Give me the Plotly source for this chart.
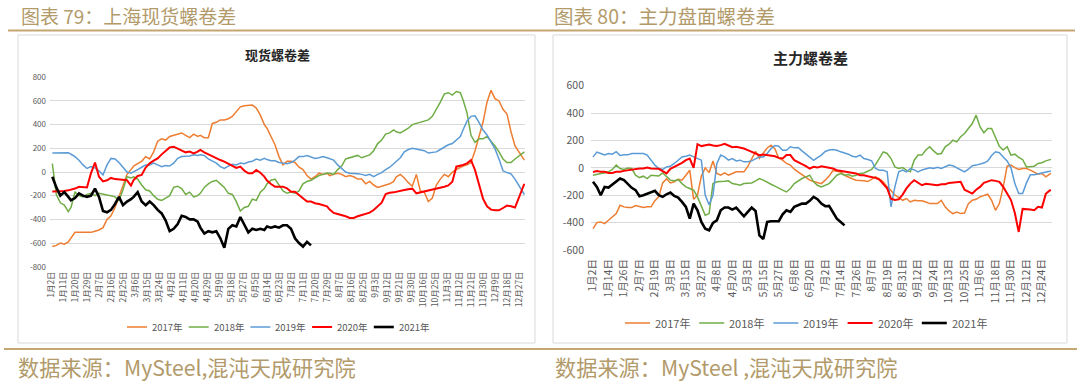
import plotly.graph_objects as go
import pandas as pd

# ---------------- categories (trading-calendar days used on both x axes) ----------------
_days = [d for d in pd.date_range("2021-01-02", "2021-12-31", freq="D")
         if not (d.month == 5 and d.day == 1) and not (d.month == 10 and d.day <= 7)]
CATS = [f"{d.month}月{d.day}日" for d in _days]

LEFT_TICKS = ["1月2日", "1月11日", "1月20日", "1月29日", "2月7日", "2月16日", "2月25日", "3月6日",
              "3月15日", "3月24日", "4月2日", "4月11日", "4月20日", "4月29日", "5月9日", "5月18日",
              "5月27日", "6月5日", "6月14日", "6月23日", "7月2日", "7月11日", "7月20日", "7月29日",
              "8月7日", "8月16日", "8月25日", "9月3日", "9月12日", "9月21日", "9月30日", "10月16日",
              "10月25日", "11月3日", "11月12日", "11月21日", "11月30日", "12月9日", "12月18日", "12月27日"]
RIGHT_TICKS = ["1月2日", "1月14日", "1月26日", "2月7日", "2月19日", "3月3日", "3月15日", "3月27日",
               "4月8日", "4月20日", "5月3日", "5月15日", "5月27日", "6月8日", "6月20日", "7月2日",
               "7月14日", "7月26日", "8月7日", "8月19日", "8月31日", "9月12日", "9月24日", "10月13日",
               "10月25日", "11月6日", "11月18日", "11月30日", "12月12日", "12月24日"]
LEFT_Y_TICKS = [-800, -600, -400, -200, 0, 200, 400, 600, 800]
RIGHT_Y_TICKS = [-600, -400, -200, 0, 200, 400, 600]

SERIES_NAMES = ["2017年", "2018年", "2019年", "2020年", "2021年"]

# sample positions (category index) of the values
L_POS = [round(0.98 * c + 0.75) for c in range(0, 355, 3)] + [355]
R_POS = list(range(0, 355, 3)) + [355]

# ---------------- left chart: 现货螺卷差 ----------------
L2017 = [-630, -620, -600, -610, -590, -560, -510, -510, -510, -510,
         -510, -500, -490, -470, -400, -370, -300, -210, -120, -20,
         20, 50, 70, 90, 130, 110, 170, 260, 280, 270,
         300, 310, 320, 330, 310, 290, 320, 300, 310, 290,
         290, 410, 420, 440, 440, 450, 470, 510, 550, 560,
         560, 565, 540, 480, 400, 370, 300, 230, 130, 60,
         90, 90, 80, 40, 20, -30, -60, -40, -10, -20,
         -10, -30, -20, -10, -20, -40, -30, -40, -60, -60,
         -100, -80, -110, -130, -120, -110, -100, -80, -40, -20,
         -50, -90, -120, -20, -160, -170, -250, -220, -110, -60,
         -20, -40, 0, 20, 40, 50, 60, 80, 180, 290,
         420, 590, 690, 620, 600, 530, 490, 340, 220,
         100]
L2018 = [70, -190, -260, -280, -335, -300, -170, -200, -210, -190,
         -180, -200, -180, -190, -195, -200, -210, -240, -150, -40,
         -50, -40, -60, -110, -150, -160, -200, -230, -240, -220,
         -200, -130, -120, -140, -190, -170, -210, -200, -180, -130,
         -100, -80, -70, -100, -130, -180, -190, -250, -330, -300,
         -290, -230, -240, -170, -140, -100, -70, -60, -110, -160,
         -180, -170, -180, -160, -100, -80, -70, -50, -30, -20,
         -10, -10, -20, 20, 50, 110, 120, 130, 140, 120,
         130, 145, 180, 240, 270, 320, 330, 355, 340, 330,
         350, 370, 400, 410, 420, 430, 440, 470, 525, 590,
         660, 670, 650, 680, 670, 610, 500, 310, 250, 280,
         280, 300, 260, 220, 170, 110, 80, 80, 110,
         170]
L2019 = [160, 160, 165, 160, 163, 150, 130, 100, 60, 30,
         45, 35, 10, -25, 60, 115, 110, 80, 40, 0,
         -10, 0, 20, 40, 60, 60, 75, 60, 45, 55,
         50, 75, 115, 130, 130, 135, 145, 140, 145, 140,
         110, 90, 75, 45, 30, 50, 65, 60, 75, 70,
         85, 90, 110, 100, 115, 105, 95, 95, 80, 75,
         70, 80, 100, 130, 130, 140, 130, 115, 120, 130,
         120, 110, 100, 60, 30, 0, -10, -10, -15, -20,
         -30, -20, -40, -20, -5, 20, 40, 70, 90, 120,
         170, 190, 200, 195, 185, 180, 160, 165, 170, 190,
         210, 230, 240, 270, 300, 355, 430, 470, 475, 420,
         355, 313, 255, 195, 110, 10, -5, -15, -60,
         -190]
L2020 = [-165, -165, -160, -160, -155, -150, -140, -125, -125, -130,
         -10, 80, -40, -80, -70, -50, -60, -65, -70, -70,
         -115, -67, -34, -25, 37, 73, 96, 115, 149, 177,
         208, 214, 200, 186, 166, 172, 158, 172, 186, 166,
         149, 130, 115, 101, 87, 68, 51, 34, 45, 11,
         -11, -11, 17, -6, -39, -73, -101, -124, -124, -124,
         -138, -166, -166, -194, -222, -250, -250, -264, -270, -279,
         -290, -318, -346, -355, -363, -374, -388, -388, -374, -363,
         -352, -343, -321, -293, -259, -186, -175, -172, -166, -158,
         -152, -146, -141, -180, -172, -166, -158, -152, -138, -130,
         -124, -113, -82, 45, 51, 59, 73, 101, 17, -110,
         -225, -290, -318, -324, -324, -304, -284, -290, -300,
         -100]
L2021 = [-40, -130, -200, -170, -210, -240, -220, -180, -200, -210,
         -200, -140, -210, -330, -340, -320, -270, -210, -280, -250,
         -230, -210, -170, -250, -280, -250, -280, -320, -350, -410,
         -500, -480, -440, -370, -380, -400, -400, -420, -470, -520,
         -500, -510, -500, -560, -640, -480, -450, -460, -380, -450,
         -510, -480, -490, -480, -490, -460, -470, -460, -470, -450,
         -450, -480, -560, -600, -630, -590, -620]

# ---------------- right chart: 主力螺卷差 ----------------
R2017 = [-444, -400, -395, -407, -383, -358, -334, -273, -285, -290,
         -290, -275, -280, -290, -285, -285, -240, -210, -110, -80,
         -110, -102, -83, -90, -54, -17, -230, -200, -60, 0,
         -35, 50, -41, -54, -37, -54, -41, -29, -29, -29,
         10, 60, 120, 70, 105, 145, 165, 140, 70, 56,
         32, 20, -10, -30, -45, -66, -90, -100, -110, -115,
         -90, -60, -20, -25, -30, -54, -70, -80, -90, -90,
         -95, -100, -85, -66, -80, -102, -139, -165, -200, -215,
         -237, -224, -249, -237, -241, -240, -249, -261, -261, -261,
         -237, -285, -315, -334, -322, -334, -330, -261, -237, -230,
         -212, -200, -193, -237, -310, -261, -139, 12, 20, 2,
         -12, -5, -5, -17, -29, -46, -41, -66, -46,
         -41]
R2018 = [-54, -46, -41, -37, -29, -12, 20, -5, -12, -2,
         -5, -54, -71, -61, -78, -54, -59, -59, -37, -66,
         -90, -95, -85, -115, -139, -151, -163, -212, -273, -346,
         -334, -115, -102, -102, -98, -95, -115, -120, -127, -115,
         -110, -110, -95, -78, -90, -102, -120, -134, -151, -163,
         -176, -151, -115, -95, -78, -66, -54, -102, -127, -139,
         -127, -115, -85, -54, -41, -54, -49, -61, -54, -41,
         -37, -27, -12, 24, 68, 117, 105, 68, 7, -5,
         2, -17, -29, 56, 93, 93, 130, 154, 124, 100,
         105, 154, 173, 202, 190, 227, 251, 288, 324, 385,
         300, 256, 288, 288, 227, 158, 130, 154, 93, 100,
         76, 61, 7, 12, 12, 32, 37, 51, 61,
         62]
R2019 = [80, 115, 105, 95, 105, 100, 118, 90, 95, 95,
         105, 105, 110, 105, 93, 56, 20, -5, -12, 7,
         12, 32, 56, 80, 85, 93, 80, 68, 56, -200,
         -270, -200, 30, 93, 80, 56, 68, 51, 56, 44,
         44, 51, 63, 80, 80, 105, 141, 163, 158, 129,
         129, 154, 146, 149, 124, 100, 75, 55, 75, 93,
         120, 130, 134, 129, 117, 110, 100, 85, 80, 93,
         68, 61, 51, -5, -17, -17, -29, -285, -139, -29,
         -17, -30, -5, -15, -30, -15, -5, 0, -5, 5,
         -5, 10, 20, 15, 0, -20, -30, -10, 15, 20,
         28, 35, 50, 90, 117, 110, 80, 50, 0, -115,
         -188, -188, -110, -50, -50, -45, -40, -30, -25,
         -22]
R2020 = [-30, -24, -29, -29, -37, -37, -29, -29, -22, -17,
         -17, -12, -5, -5, 2, -5, -5, -7, -24, -41,
         -7, 7, 20, 37, 56, 68, 0, 173, 159, 166,
         171, 163, 159, 166, 176, 163, 151, 154, 149, 141,
         129, 117, 100, 93, 98, 93, 93, 85, 73, 68,
         93, 93, 56, 39, 27, 12, -5, 7, 2, 12,
         7, 2, -5, -17, -22, -29, -29, -37, -41, -54,
         -54, -61, -66, -73, -85, -115, -150, -225, -235, -230,
         -195, -150, -115, -90, -110, -127, -117, -120, -120, -127,
         -120, -120, -110, -108, -104, -102, -160, -175, -188, -160,
         -139, -110, -102, -90, -95, -102, -139, -190, -235, -330,
         -468, -300, -300, -305, -310, -285, -290, -190, -165,
         -163]
R2021 = [-102, -139, -200, -139, -144, -120, -95, -78, -90, -120,
         -146, -163, -207, -200, -188, -180, -168, -200, -212, -193,
         -180, -205, -217, -249, -285, -371, -261, -310, -395, -444,
         -456, -402, -383, -310, -290, -290, -305, -290, -322, -354,
         -322, -290, -315, -493, -520, -395, -390, -388, -390, -339,
         -310, -322, -285, -273, -261, -261, -241, -212, -229, -261,
         -280, -278, -330, -371, -395, -420]

COLORS = ["#ED7D31", "#70AD47", "#5B9BD5", "#FF0000", "#000000"]
WIDTHS = [1.5, 1.5, 1.5, 2.0, 2.6]

LEFT_DATA = [L2017, L2018, L2019, L2020, L2021]
RIGHT_DATA = [R2017, R2018, R2019, R2020, R2021]

FONT = "Noto Sans CJK SC, Noto Sans, sans-serif"
GOLD_TXT = "#B29A6A"
GOLD_LINE = "#C4A672"
GRID = "#D9D9D9"
TICK = "#595959"

W, H = 1080, 383


def px(x):
    return x / W


def py(y):
    return 1 - y / H


fig = go.Figure()
for name, ys, col, wd in zip(SERIES_NAMES, LEFT_DATA, COLORS, WIDTHS):
    fig.add_trace(go.Scatter(x=[CATS[i] for i in L_POS[:len(ys)]], y=ys, name=name,
                             mode="lines", line=dict(color=col, width=wd),
                             xaxis="x", yaxis="y", showlegend=False))
for name, ys, col, wd in zip(SERIES_NAMES, RIGHT_DATA, COLORS, WIDTHS):
    fig.add_trace(go.Scatter(x=[CATS[i] for i in R_POS[:len(ys)]], y=ys, name=name,
                             mode="lines", line=dict(color=col, width=wd),
                             xaxis="x2", yaxis="y2", showlegend=False))

xcommon = dict(type="category", categoryorder="array", categoryarray=CATS, tickmode="array",
               tickangle=-90, showgrid=False, zeroline=False, showline=False, ticks="",
               fixedrange=True, automargin=False)
ycommon = dict(showgrid=True, gridcolor=GRID, gridwidth=1, zeroline=False, showline=False,
               ticks="", tickmode="array", fixedrange=True, automargin=False)

fig.update_layout(
    width=W, height=H, margin=dict(l=0, r=0, t=0, b=0, pad=0, autoexpand=False),
    paper_bgcolor="white", plot_bgcolor="white",
    font=dict(family=FONT, color=TICK),
    xaxis=dict(xcommon, domain=[px(50), px(525)], anchor="y", range=[-0.75, 355.5],
               tickvals=LEFT_TICKS, ticktext=LEFT_TICKS,
               tickfont=dict(size=8.5, color=TICK), ticklabelstandoff=2),
    yaxis=dict(ycommon, domain=[py(266.7), py(77.3)], anchor="x", range=[-800, 800],
               tickvals=LEFT_Y_TICKS, ticktext=[str(v) for v in LEFT_Y_TICKS],
               tickfont=dict(size=8, color=TICK), ticklabelstandoff=3),
    xaxis2=dict(xcommon, domain=[px(591), px(1052)], anchor="y2", range=[-1.55, 355.8],
                tickvals=RIGHT_TICKS, ticktext=RIGHT_TICKS,
                tickfont=dict(size=10.5, color=TICK), ticklabelstandoff=6),
    yaxis2=dict(ycommon, domain=[py(250), py(85.7)], anchor="x2", range=[-600, 600],
                tickvals=RIGHT_Y_TICKS, ticktext=[str(v) for v in RIGHT_Y_TICKS],
                tickfont=dict(size=10.5, color=TICK), ticklabelstandoff=6),
    showlegend=False,
)

shapes = [
    dict(type="line", xref="paper", yref="paper", x0=px(8), x1=px(1075), y0=py(30.5), y1=py(30.5),
         line=dict(color=GOLD_LINE, width=2)),
    dict(type="line", xref="paper", yref="paper", x0=px(4), x1=px(1077), y0=py(349), y1=py(349),
         line=dict(color=GOLD_LINE, width=2)),
    dict(type="rect", xref="paper", yref="paper", x0=px(18), x1=px(535), y0=py(343), y1=py(35),
         line=dict(color=GRID, width=1)),
    dict(type="rect", xref="paper", yref="paper", x0=px(553), x1=px(1067), y0=py(343), y1=py(35),
         line=dict(color=GRID, width=1)),
]

annos = [
    dict(text="图表 79：上海现货螺卷差", x=px(19), y=py(16), xanchor="left", yanchor="middle",
         font=dict(size=19, color=GOLD_TXT)),
    dict(text="图表 80：主力盘面螺卷差", x=px(552), y=py(16), xanchor="left", yanchor="middle",
         font=dict(size=19.5, color=GOLD_TXT)),
    dict(text="<b>现货螺卷差</b>", x=px(277), y=py(55), xanchor="center", yanchor="middle",
         font=dict(size=13, color="#262626")),
    dict(text="<b>主力螺卷差</b>", x=px(810), y=py(58), xanchor="center", yanchor="middle",
         font=dict(size=15, color="#262626")),
    dict(text="数据来源：MySteel,混沌天成研究院", x=px(16), y=py(366), xanchor="left",
         yanchor="middle", font=dict(size=21.2, color=GOLD_TXT)),
    dict(text="数据来源：MySteel ,混沌天成研究院", x=px(553), y=py(366), xanchor="left",
         yanchor="middle", font=dict(size=21.2, color=GOLD_TXT)),
]

# custom legends (short line + label), one per panel
LEG_LEFT = dict(x0=127, pitch=61.7, y=327, seg=20, gap=3, size=9.5)
LEG_RIGHT = dict(x0=625, pitch=74.2, y=323, seg=25, gap=3, size=11)
for leg in (LEG_LEFT, LEG_RIGHT):
    for k, (name, col, wd) in enumerate(zip(SERIES_NAMES, COLORS, WIDTHS)):
        xs = leg["x0"] + k * leg["pitch"]
        shapes.append(dict(type="line", xref="paper", yref="paper", x0=px(xs), x1=px(xs + leg["seg"]),
                           y0=py(leg["y"]), y1=py(leg["y"]), line=dict(color=col, width=wd)))
        annos.append(dict(text=name, x=px(xs + leg["seg"] + leg["gap"]), y=py(leg["y"]),
                          xanchor="left", yanchor="middle",
                          font=dict(size=leg["size"], color=TICK)))

for a in annos:
    a.update(xref="paper", yref="paper", showarrow=False)

fig.update_layout(shapes=shapes, annotations=annos)
fig.write_html("out.html", config={"displayModeBar": False},
               post_script="document.body.style.margin='0';document.body.style.overflow='hidden';")
